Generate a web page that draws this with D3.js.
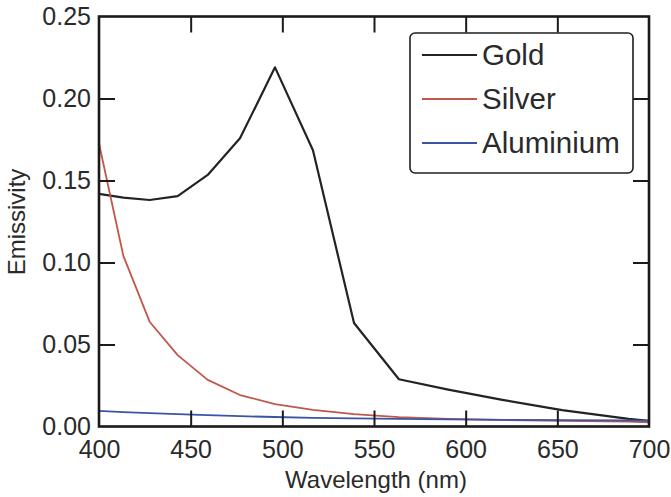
<!DOCTYPE html>
<html>
<head>
<meta charset="utf-8">
<script src="https://cdn.jsdelivr.net/npm/d3@7"></script>
<style>
  html, body { margin: 0; padding: 0; background: #ffffff; }
  svg { display: block; }
  text { font-family: "Liberation Sans", Arial, Helvetica, sans-serif; fill: #2a2a2a; }
</style>
</head>
<body>
<svg id="chart" width="671" height="497"></svg>
<script>
// Wavelength grid (nm), from photon energies 3.1 eV down to ~1.77 eV
const wavelengths = [400, 413.3, 427.6, 442.9, 459.3, 476.9, 496.0, 516.7, 539.1, 563.6, 590.5, 620.0, 652.6, 688.9, 700];

// Emissivity for each metal on that grid
const gold      = [0.1418, 0.1396, 0.1381, 0.1405, 0.1534, 0.1757, 0.2190, 0.1684, 0.0631, 0.0288, 0.0225, 0.0162, 0.0100, 0.0047, 0.0034];
const silver    = [0.1726, 0.1040, 0.0639, 0.0435, 0.0284, 0.0192, 0.0137, 0.0102, 0.0076, 0.0057, 0.0046, 0.0040, 0.0035, 0.0030, 0.0026];
const aluminium = [0.0095, 0.0088, 0.0082, 0.0075, 0.0069, 0.0063, 0.0058, 0.0053, 0.0049, 0.0046, 0.0043, 0.0041, 0.0039, 0.0037, 0.0036];

const seriesNames  = ["Gold", "Silver", "Aluminium"];
const seriesColors = ["#232323", "#c0574a", "#3b55a3"];
const seriesValues = [gold, silver, aluminium];

const xTicks = [400, 450, 500, 550, 600, 650, 700];
const yTicks = [0, 0.05, 0.10, 0.15, 0.20, 0.25];

const svg = d3.select("#chart");
const plotLeft = 99, plotRight = 649, plotTop = 16.5, plotBottom = 426.5;

const x = d3.scaleLinear().domain([400, 700]).range([plotLeft, plotRight]);
const y = d3.scaleLinear().domain([0, 0.25]).range([plotBottom, plotTop]);

// Data lines
const line = d3.line().x(d => x(d[0])).y(d => y(d[1]));
seriesValues.forEach((vals, i) => {
  svg.append("path")
    .datum(wavelengths.map((w, k) => [w, vals[k]]))
    .attr("fill", "none")
    .attr("stroke", seriesColors[i])
    .attr("stroke-width", i === 0 ? 2.2 : 1.8)
    .attr("stroke-linejoin", "round")
    .attr("d", line);
});

// Axes with inward ticks on all four sides
const tickLen = 16;
const axisStyle = g => {
  g.select(".domain").remove();
  g.selectAll(".tick line").attr("stroke", "#1a1a1a").attr("stroke-width", 2);
  g.selectAll(".tick text").style("font-size", "25px").attr("fill", "#2a2a2a");
};

svg.append("g")
  .attr("transform", `translate(0,${plotBottom})`)
  .call(d3.axisBottom(x).tickValues(xTicks).tickSize(-tickLen).tickPadding(10).tickFormat(d3.format("d")))
  .call(axisStyle)
  .call(g => g.selectAll(".tick line").filter(d => d === 400 || d === 700).remove())
  .call(g => g.selectAll(".tick text").attr("dy", "0.85em"));

svg.append("g")
  .attr("transform", `translate(0,${plotTop})`)
  .call(d3.axisTop(x).tickValues(xTicks.filter(d => d !== 400 && d !== 700)).tickSize(-tickLen).tickFormat(""))
  .call(axisStyle);

svg.append("g")
  .attr("transform", `translate(${plotLeft},0)`)
  .call(d3.axisLeft(y).tickValues(yTicks).tickSize(-tickLen).tickPadding(8).tickFormat(d3.format(".2f")))
  .call(axisStyle)
  .call(g => g.selectAll(".tick line").filter(d => d === 0 || d === 0.25).remove());

svg.append("g")
  .attr("transform", `translate(${plotRight},0)`)
  .call(d3.axisRight(y).tickValues(yTicks.filter(d => d !== 0 && d !== 0.25)).tickSize(-tickLen).tickFormat(""))
  .call(axisStyle);

// Frame
svg.append("rect")
  .attr("x", plotLeft).attr("y", plotTop)
  .attr("width", plotRight - plotLeft).attr("height", plotBottom - plotTop)
  .attr("fill", "none").attr("stroke", "#1a1a1a").attr("stroke-width", 2.6);

// Axis titles
svg.append("text")
  .attr("x", (plotLeft + plotRight) / 2 + 2).attr("y", 488)
  .attr("text-anchor", "middle")
  .style("font-size", "24px")
  .text("Wavelength (nm)");

svg.append("text")
  .attr("transform", `translate(25,${222}) rotate(-90)`)
  .attr("text-anchor", "middle")
  .style("font-size", "24px")
  .text("Emissivity");

// Legend
const legend = svg.append("g");
legend.append("rect")
  .attr("x", 410).attr("y", 33).attr("width", 223).attr("height", 140)
  .attr("rx", 5).attr("ry", 5)
  .attr("fill", "#ffffff").attr("stroke", "#1f1f1f").attr("stroke-width", 1.6);

seriesNames.forEach((name, i) => {
  const ly = 55 + i * 44;
  legend.append("line")
    .attr("x1", 422).attr("x2", 477).attr("y1", ly).attr("y2", ly)
    .attr("stroke", seriesColors[i]).attr("stroke-width", i === 0 ? 2 : 1.8);
  legend.append("text")
    .attr("x", 482).attr("y", ly + 10)
    .style("font-size", "29.5px")
    .text(name);
});
</script>
</body>
</html>
